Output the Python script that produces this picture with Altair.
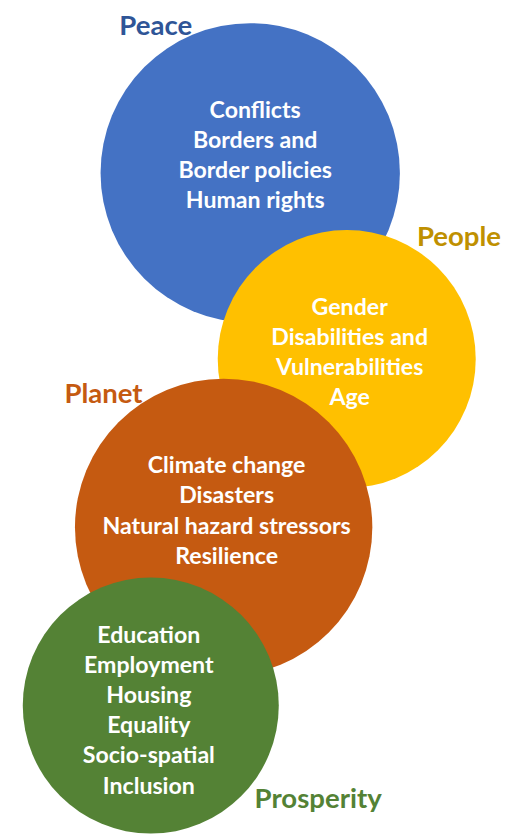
import altair as alt
import pandas as pd

# Circle data (screen pixel coordinates of the reference)
names = ["Peace", "People", "Planet", "Prosperity"]
cx = [254, 352, 227, 153]
cy = [169, 358, 529, 710]
radius = [152, 131, 151, 130]
fill_colors = ["#4472C4", "#FFC000", "#C55A11", "#548235"]
label_colors = ["#2F5597", "#BF9000", "#C55A11", "#548235"]

# body text per circle
body = [
    ["Conflicts", "Borders and", "Border policies", "Human rights"],
    ["Gender", "Disabilities and", "Vulnerabilities", "Age"],
    ["Climate change", "Disasters", "Natural hazard stressors", "Resilience"],
    ["Education", "Employment", "Housing", "Equality", "Socio-spatial", "Inclusion"],
]
body_x = [259, 355, 230, 151]
body_first_baseline = [113, 313, 474, 646]
line_height = 30.7

label_x = [158, 466, 105, 323]
label_baseline = [29, 243, 403, 814]

circles = pd.DataFrame({
    "name": names, "x": cx, "y": cy,
    # Vega symbol size is the area of the bounding square: (2r)^2
    "size": [4 * r * r for r in radius],
    "order": list(range(4)),
})

rows = []
for k, lines in enumerate(body):
    for i, t in enumerate(lines):
        rows.append({"name": names[k], "x": body_x[k],
                     "y": body_first_baseline[k] + i * line_height, "text": t})
texts = pd.DataFrame(rows)
labels = pd.DataFrame({"name": names, "x": label_x, "y": label_baseline})

W, H = 522, 829
xs = alt.Scale(domain=[8, 8 + W], range=[0, W])
ys = alt.Scale(domain=[8, 8 + H], range=[0, H])
X = alt.X("x:Q", scale=xs, axis=None)
Y = alt.Y("y:Q", scale=ys, axis=None)

circ = alt.Chart(circles).mark_circle(opacity=1).encode(
    x=X, y=Y,
    size=alt.Size("size:Q", scale=None, legend=None),
    color=alt.Color("name:N", scale=alt.Scale(domain=names, range=fill_colors), legend=None),
    order=alt.Order("order:Q"),
)

body_txt = alt.Chart(texts).mark_text(
    font="Lato", fontWeight="bold", fontSize=23.5, color="white",
    align="center", baseline="alphabetic",
).encode(x=X, y=Y, text="text:N")

lab = alt.Chart(labels).mark_text(
    font="Lato", fontWeight="bold", fontSize=28, align="center", baseline="alphabetic",
).encode(
    x=X, y=Y, text="name:N",
    color=alt.Color("name:N", scale=alt.Scale(domain=names, range=label_colors), legend=None),
)

chart = alt.layer(circ, body_txt, lab).resolve_scale(color="independent").properties(
    width=W, height=H, padding=0, background="white",
    autosize=alt.AutoSizeParams(type="none"),
).configure_view(stroke=None)

chart.save("out.html", embed_options={"renderer": "svg", "actions": False})
